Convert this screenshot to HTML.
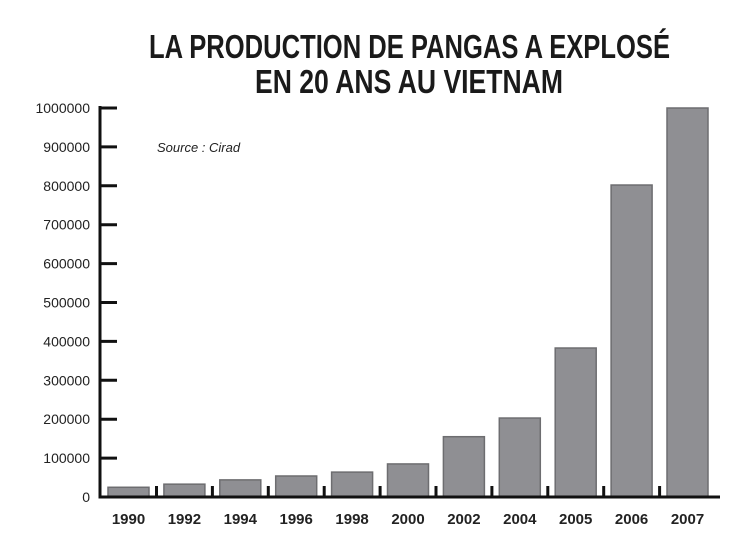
<!DOCTYPE html>
<html><head><meta charset="utf-8"><style>
html,body{margin:0;padding:0;background:#fff;}
svg{display:block;font-family:"Liberation Sans",sans-serif;}
</style></head><body>
<svg id="chart" width="747" height="545" viewBox="0 0 747 545">
<text x="149" y="58" font-size="33" font-weight="bold" fill="#1a1a1a" textLength="521" lengthAdjust="spacingAndGlyphs">LA PRODUCTION DE PANGAS A EXPLOSÉ</text>
<text x="255" y="93" font-size="33" font-weight="bold" fill="#1a1a1a" textLength="308" lengthAdjust="spacingAndGlyphs">EN 20 ANS AU VIETNAM</text>
<text x="157" y="152" font-size="13" font-style="italic" fill="#222">Source : Cirad</text>
<g id="bars"></g><g id="axes"></g>
</svg>
<script>
const categories=["1990","1992","1994","1996","1998","2000","2002","2004","2005","2006","2007"];
const values=[25000,33000,44000,54000,64000,85000,155000,203000,383000,802000,1000000];
const yTicks=[0,100000,200000,300000,400000,500000,600000,700000,800000,900000,1000000];
const NS="http://www.w3.org/2000/svg";
const x0=100,base=497,yTop=108,ymax=1000000,first=108,step=55.9,bw=41;
function yScale(v){return base-(v/ymax)*(base-yTop);}
function xb(i){return first+i*step;}
function mk(t,a,p){const e=document.createElementNS(NS,t);for(const k in a)e.setAttribute(k,a[k]);p.appendChild(e);return e;}
const barsG=document.getElementById('bars'),axesG=document.getElementById('axes');
values.forEach((v,i)=>{
 const r=mk('rect',{x:xb(i),y:yScale(v),width:bw,height:base-yScale(v),fill:'#8f8f93',stroke:'#6d6d70','stroke-width':1.5},barsG);
 
 
 const t=mk('text',{x:xb(i)+bw/2,y:524,'font-size':15,'font-weight':'bold','text-anchor':'middle',fill:'#222'},axesG);
 t.textContent=categories[i];
 
 
 if(i<categories.length-1){
  const s=mk('line',{x1:xb(i)+bw+7.5,x2:xb(i)+bw+7.5,y1:486,y2:497,stroke:'#111','stroke-width':3},axesG);
  
  
 }
});
yTicks.forEach(v=>{
 const l=mk('line',{x1:x0,x2:x0+17,y1:yScale(v),y2:yScale(v),stroke:'#111','stroke-width':3},axesG);
 
 
 const t=mk('text',{x:90,y:yScale(v)+5,'font-size':14,'text-anchor':'end',fill:'#222'},axesG);
 t.textContent=String(v);
 
 
});
const ya=mk('line',{x1:x0,x2:x0,y1:yTop-2,y2:base+1.5,stroke:'#111','stroke-width':3},axesG);


const xa=mk('line',{x1:x0,x2:720,y1:base,y2:base,stroke:'#111','stroke-width':3},axesG);


</script>
</body></html>
